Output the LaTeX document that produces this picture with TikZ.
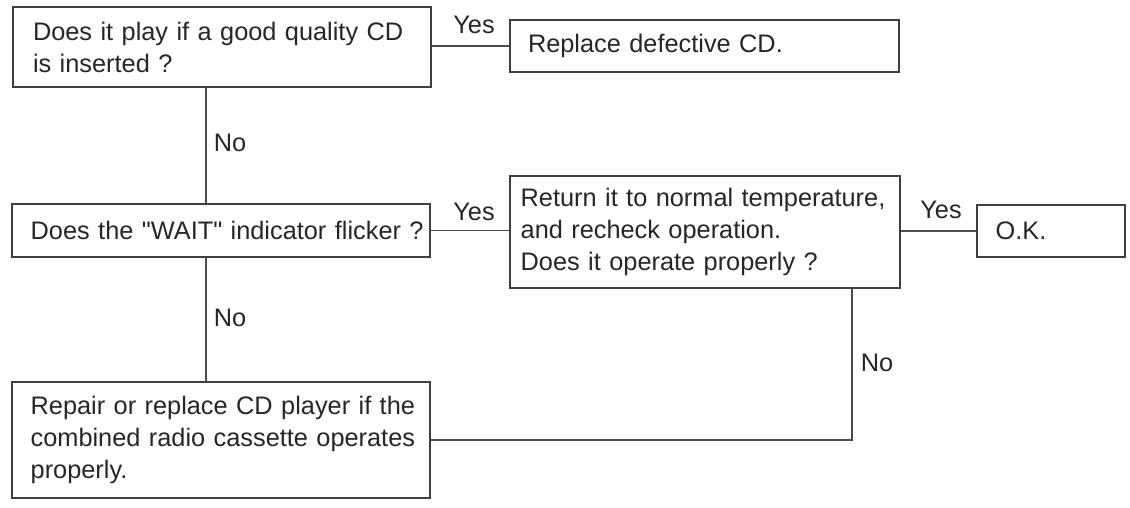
\documentclass[tikz,border=0pt]{standalone}
\usepackage{fontspec}
\setmainfont{Liberation Sans}
\begin{document}
\begin{tikzpicture}[x=0.75pt,y=-0.75pt,
    flowbox/.style={draw=black!75, line width=0.9pt, rectangle, align=left, text=black!85, font=\fontsize{19}{24}\selectfont},
    lbl/.style={text=black!85, font=\fontsize{19}{24}\selectfont, inner sep=0pt},
    conn/.style={draw=black!70, line width=0.8pt}]
    \useasboundingbox (0,0) rectangle (1130,507);
    \node[flowbox, text width=283.5pt, inner xsep=15pt, minimum height=60pt] (play) at (222,47) {\mbox{Does it play if a good quality CD}\\\mbox{is inserted ?}};
    \node[flowbox, text width=264.75pt, inner xsep=13.5pt, minimum height=39pt] (defect) at (704.5,46) {\mbox{Replace defective CD.}};
    \node[flowbox, text width=285.5pt, inner xsep=14pt, minimum height=39.75pt] (wait) at (221,230.5) {\mbox{Does the \textquotedbl WAIT\textquotedbl{} indicator flicker ?}};
    \node[flowbox, text width=276.5pt, inner xsep=8pt, minimum height=84pt] (temp) at (705,232) {\mbox{Return it to normal temperature,}\\\mbox{and recheck operation.}\\\mbox{Does it operate properly ?}};
    \node[flowbox, text width=83pt, inner xsep=14pt, minimum height=39pt] (ok) at (1051,231) {\mbox{O.K.}};
    \node[flowbox, text width=285.5pt, inner xsep=14pt, minimum height=87pt] (repair) at (221,440) {\mbox{Repair or replace CD player if the}\\\mbox{combined radio cassette operates}\\\mbox{properly.}};
    \draw[conn] (defect.west -| play.east) -- (defect.west);
    \draw[conn] ([xshift=-12pt]play.south) -- ([xshift=-12pt]play.south |- wait.north);
    \draw[conn] ([xshift=-12pt]play.south |- wait.south) -- ([xshift=-12pt]play.south |- repair.north);
    \draw[conn] (wait.east) -- (wait.east -| temp.west);
    \draw[conn] (ok.west -| temp.east) -- (ok.west);
    \draw[conn] ([xshift=110.25pt]temp.south) |- (repair.east);
    \node[lbl] (yesA) at (474,25) {Yes};
    \node[lbl] (noA) at (230,143) {No};
    \node[lbl] (yesB) at (474,212) {Yes};
    \node[lbl] (noB) at (230,318) {No};
    \node[lbl] (yesC) at (941,210) {Yes};
    \node[lbl] (noC) at (877,363) {No};
\end{tikzpicture}
\end{document}
